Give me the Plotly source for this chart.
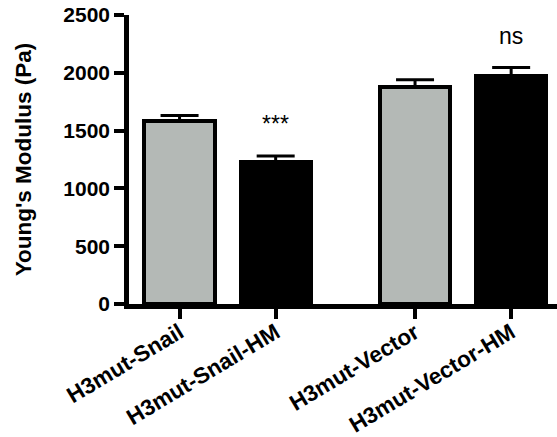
import plotly.graph_objects as go

categories = ["H3mut-Snail", "H3mut-Snail-HM", "H3mut-Vector", "H3mut-Vector-HM"]
positions = [0, 1, 2.45, 3.45]
values = [1580, 1230, 1875, 1975]
errors = [50, 50, 65, 70]
colors = ["#b4b9b6", "#000000", "#b4b9b6", "#000000"]
sig_labels = ["", "***", "", "ns"]
y_ticks = [0, 500, 1000, 1500, 2000, 2500]

FONT = "Liberation Sans, Arial, Helvetica, sans-serif"

fig = go.Figure()
fig.add_trace(go.Bar(
    x=positions, y=values, width=0.73,
    marker=dict(color=colors, line=dict(color="black", width=4)),
    error_y=dict(type="data", symmetric=False, array=errors,
                 arrayminus=[0] * len(errors), color="black",
                 thickness=3, width=19),
    showlegend=False, hoverinfo="skip",
))

for xp, v, e, lab in zip(positions, values, errors, sig_labels):
    if lab:
        fig.add_annotation(x=xp, y=v + e, text=lab, showarrow=False,
                           yanchor="bottom", yshift=17,
                           font=dict(family=FONT, size=23, color="black"))

fig.update_layout(
    width=557, height=437,
    margin=dict(l=129, r=0, t=15, b=133, autoexpand=False),
    plot_bgcolor="white", paper_bgcolor="white",
    font=dict(family=FONT, color="black"),
    bargap=0,
)
fig.update_xaxes(
    range=[-0.526, 3.927], tickmode="array", tickvals=positions,
    ticktext=categories, tickangle=-31, automargin=False,
    ticklabelstandoff=-8,
    tickfont=dict(family=FONT, size=22.5, color="black", weight="bold"),
    showline=True, linecolor="black", linewidth=4.5,
    ticks="outside", ticklen=10, tickwidth=4, tickcolor="black",
    showgrid=False, zeroline=False,
)
fig.update_yaxes(
    range=[0, 2500], tickmode="array", tickvals=y_ticks, automargin=False,
    tickfont=dict(family=FONT, size=21, color="black", weight="bold"),
    showline=True, linecolor="black", linewidth=4.5,
    ticks="outside", ticklen=10, tickwidth=4, tickcolor="black",
    showgrid=False, zeroline=False,
    title=dict(text="Young's Modulus (Pa)", standoff=27,
               font=dict(family=FONT, size=22.5, color="black", weight="bold")),
)

fig.write_html("out.html", config={"displayModeBar": False},
               post_script="document.body.style.margin='0';document.body.style.overflow='hidden';")
